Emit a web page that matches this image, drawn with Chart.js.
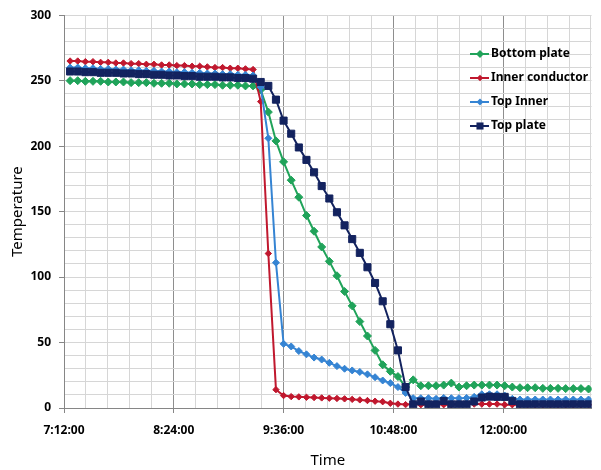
<!DOCTYPE html>
<html>
<head>
<meta charset="utf-8">
<script src="https://cdn.jsdelivr.net/npm/chart.js@4.4.0/dist/chart.umd.min.js"></script>
<style>
  html, body { margin: 0; padding: 0; background: #fff; }
</style>
</head>
<body>
<canvas id="chartTemp" width="601" height="470"></canvas>
<script>
// ---------- data ----------

// readings every 5 minutes starting at 7:16
const startMinute = 7 * 60 + 16;
const stepMinutes = 5;

const bottomPlate = [
  250, 250, 249.5, 249.5, 249.5, 249, 249, 249, 248.5, 248.5, 248.5, 248, 248, 248, 247.5, 247.5, 247.5, 247, 247, 247, 246.5, 246.5, 246.5, 246, 246,
  243, 226, 204, 188, 174, 161, 147, 135, 123, 112, 101, 89, 78, 66, 55, 44, 33, 28, 24, 16,
  21.5, 17, 17, 17, 17.5, 19, 16, 17, 17.5, 17.5, 17.5, 17.5, 17, 16, 15.5, 15.5, 15.5, 15, 15, 15, 14.8, 14.8, 14.8, 14.5
];
const innerConductor = [
  265, 265, 264.5, 264.5, 264, 264, 263.5, 263.5, 263, 263, 262.5, 262.5, 262, 262, 261.5, 261.5, 261, 261, 260.5, 260, 260, 259.5, 259.5, 259, 258.5,
  234, 118, 14, 9.5, 8.7, 8.5, 8.2, 8, 7.7, 7.5, 7.3, 7, 6.6, 6.2, 5.7, 5.2, 4.8, 3.6, 3, 2.6,
  3, 2.5, 2.5, 3, 2.5, 2.5, 3, 3, 3, 3, 3, 3, 2.5, 2.5, 2.5, 2.5, 2.5, 2.5, 2.5, 2.5, 2.5, 2.5, 2.5, 2.5
];
const topInner = [
  260, 260, 259.5, 259.5, 259, 259, 258.5, 258.5, 258, 258, 257.5, 257.5, 257, 257, 256.5, 256.5, 256, 256, 255.5, 255.5, 255, 255, 254.5, 254.5, 254,
  245, 206, 111, 49, 47, 43.5, 41, 38.5, 37, 34.5, 32, 30, 28.7, 27.5, 25.7, 23.5, 21, 19, 16, 11.5,
  7.5, 7.5, 7.5, 7, 7.7, 7.5, 7.5, 7.7, 8.5, 10.5, 10.5, 10.5, 9.5, 7, 6.5, 6.5, 6.5, 6.5, 6.5, 6.5, 6.5, 6.5, 6.5, 6.5
];
const topPlate = [
  257, 257, 256.5, 256.5, 256, 256, 256, 255.5, 255.5, 255, 255, 254.5, 254.5, 254, 254, 253.5, 253.5, 253, 253, 253, 252.5, 252.5, 252, 252, 251.5,
  249, 246, 235.5, 219.5, 209.5, 199, 189.5, 180, 169.5, 160, 149.5, 139.5, 129, 118.5, 107.5, 95.5, 81.5, 64, 44, 16,
  2.8, 5, 2.8, 2.8, 5.4, 2.8, 2.8, 2.8, 5, 8, 8.7, 8.5, 8.5, 5.4, 2.8, 2.8, 2.8, 2.8, 2.8, 2.8, 2.8, 2.8, 2.8, 2.8
];

const seriesNames = ['Bottom plate', 'Inner conductor', 'Top Inner', 'Top plate'];

// x axis: 7:12:00 .. about 12:58, gridline every 14.4 min, label every 72 min
const xMin = 7 * 60 + 12;
const xMax = 12 * 60 + 58;
const xGridStep = 14.4;
const yTickStep = 10;

// ---------- helpers ----------

const times = bottomPlate.map((v, i) => startMinute + i * stepMinutes);

function toPoints(values) {
  return values.map((v, i) => ({ x: times[i], y: v }));
}

function fmtTime(min) {
  const h = Math.floor(min / 60 + 1e-6);
  const m = Math.round(min - h * 60);
  return h + ':' + String(m).padStart(2, '0') + ':00';
}

const xTicks = [];
for (let t = xMin; t <= xMax + 1e-6; t += xGridStep) xTicks.push(t);

const tickFont = { family: "'Noto Sans', sans-serif", size: 12, weight: 'bold' };
const titleFont = { family: "'Noto Sans', sans-serif", size: 15 };

const styles = [
  { color: '#20a35a', point: 'rectRot', radius: 4 },
  { color: '#c0182e', point: 'rectRot', radius: 3.2 },
  { color: '#3584d3', point: 'rectRot', radius: 3.5 },
  { color: '#13235f', point: 'rect', radius: 5 }
];

// ---------- legend drawn inside the plot (like Excel) ----------

function drawMarker(ctx, style, x, y) {
  ctx.fillStyle = style.color;
  ctx.beginPath();
  if (style.point === 'rect') {
    const s = style.radius * Math.SQRT1_2;
    ctx.rect(x - s, y - s, 2 * s, 2 * s);
  } else {
    const r = style.radius;
    ctx.moveTo(x, y - r);
    ctx.lineTo(x + r, y);
    ctx.lineTo(x, y + r);
    ctx.lineTo(x - r, y);
    ctx.closePath();
  }
  ctx.fill();
}

const insideLegend = {
  id: 'insideLegend',
  afterDraw(chart) {
    const ctx = chart.ctx;
    ctx.save();
    ctx.font = 'bold 12px "Noto Sans", sans-serif';
    ctx.textBaseline = 'middle';
    seriesNames.forEach((name, i) => {
      const y = 54 + i * 24;
      const st = styles[i];
      ctx.strokeStyle = st.color;
      ctx.lineWidth = 2;
      ctx.beginPath();
      ctx.moveTo(470, y);
      ctx.lineTo(489, y);
      ctx.stroke();
      drawMarker(ctx, st, 480, y);
      ctx.fillStyle = '#000';
      ctx.fillText(name, 491, y);
    });
    ctx.restore();
  }
};

// ---------- chart ----------

const dataSets = [bottomPlate, innerConductor, topInner, topPlate].map((vals, i) => ({
  label: seriesNames[i],
  data: toPoints(vals),
  borderColor: styles[i].color,
  backgroundColor: styles[i].color,
  borderWidth: 2,
  pointStyle: styles[i].point,
  pointRadius: styles[i].radius,
  pointBorderWidth: 1,
  pointBorderColor: styles[i].color,
  tension: 0,
  order: 3 - i
}));

new Chart(document.getElementById('chartTemp'), {
  type: 'line',
  data: { datasets: dataSets },
  plugins: [insideLegend],
  options: {
    responsive: false,
    animation: false,
    layout: { padding: { top: 15, right: 0, bottom: 0, left: 0 } },
    plugins: {
      legend: { display: false },
      tooltip: { enabled: false }
    },
    scales: {
      x: {
        type: 'linear',
        min: xMin,
        max: xMax,
        afterBuildTicks: scale => { scale.ticks = xTicks.map(v => ({ value: v })); },
        afterFit: scale => { scale.height = 62; },
        ticks: {
          autoSkip: false,
          maxRotation: 0,
          padding: 10,
          color: '#000',
          font: tickFont,
          callback: (value, index) => (index % 5 === 0 ? fmtTime(value) : '')
        },
        grid: {
          color: c => (c.index % 5 === 0 ? '#8e8e8e' : '#d6d6d6'),
          tickColor: c => (c.index % 5 === 0 ? '#868686' : 'rgba(0,0,0,0)'),
          tickLength: 5
        },
        border: { color: '#868686' },
        title: { display: true, text: 'Time', color: '#000', font: titleFont, padding: { top: 0, bottom: 0 } }
      },
      y: {
        min: 0,
        max: 300,
        afterFit: scale => { scale.width = 64; },
        ticks: {
          stepSize: yTickStep,
          autoSkip: false,
          padding: 8,
          color: '#000',
          font: tickFont,
          callback: v => (v % 50 === 0 ? v : '')
        },
        grid: {
          color: '#d6d6d6',
          tickColor: c => (c.tick.value % 50 === 0 ? '#868686' : 'rgba(0,0,0,0)'),
          tickLength: 5
        },
        border: { color: '#868686' },
        title: { display: true, text: 'Temperature', color: '#000', font: titleFont, padding: { top: 9, bottom: 0 } }
      }
    }
  }
});
</script>
</body>
</html>
